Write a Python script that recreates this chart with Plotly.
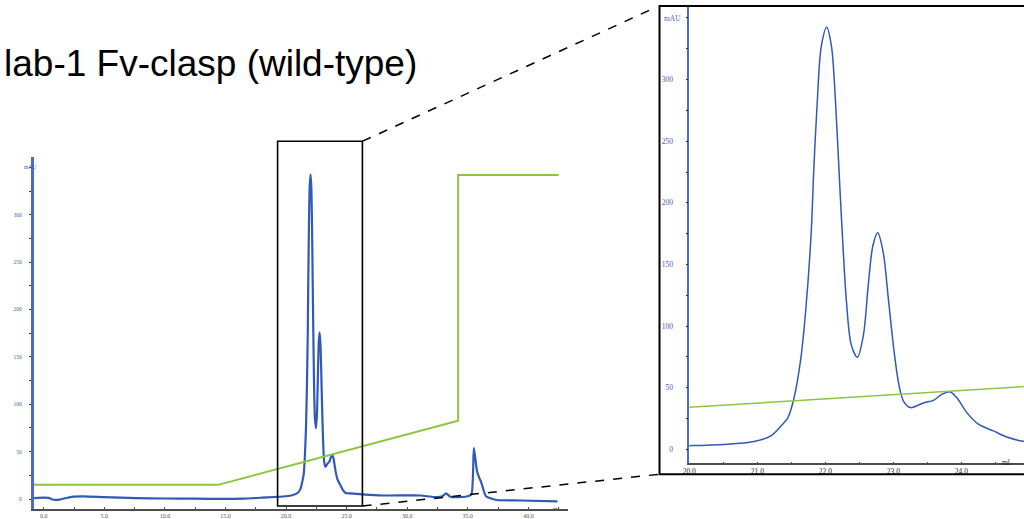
import plotly.graph_objects as go

# ---------------- data ----------------
# UV absorbance trace (mAU) versus elution volume (ml)
volume_ml = [-0.8, 0.0, 0.4, 0.8, 1.3, 2.3, 3.3, 5.0, 7.6, 10.0, 12.5, 15.0, 16.5, 18.0, 19.0,
             20.0, 20.5, 20.95, 21.2, 21.35, 21.45, 21.54, 21.64, 21.71, 21.79, 21.83, 21.88,
             21.94, 22.02, 22.09, 22.15, 22.20, 22.25, 22.31, 22.38, 22.47, 22.56, 22.63, 22.70,
             22.77, 22.85, 22.93, 23.01, 23.08, 23.15, 23.25, 23.45, 23.59, 23.71, 23.83, 23.93,
             24.08, 24.25, 24.47, 24.67, 24.91, 25.3, 26.3, 28.0, 31.1,
             32.2, 32.9, 33.2, 33.6, 34.9, 35.3, 35.5, 35.75, 35.9, 36.1, 36.5, 37.4, 39.3, 42.4]
uv_mau = [1.0, 1.5, 1.2, -0.7, -0.5, 2.4, 2.8, 2.0, 1.0, 0.6, 0.4, 0.2, 0.5, 1.5, 2.2,
          3.0, 4.0, 6.4, 11, 19.1, 25.8, 41.9, 74, 112, 174, 227, 281,
          327, 342.5, 327, 281, 227, 174, 120, 85, 74.7, 93, 133, 165.6,
          175.8, 160, 120, 79.6, 52.7, 39, 33.9, 37.9, 39.8, 44.6, 46.8, 42,
          29.8, 20.4, 15, 10, 6.5, 6, 5, 3.8, 3.8,
          2.2, 3, 6, 2.2, 2.7, 5, 54, 30, 24, 18, 3, -1, -1.5, -2.5]

# Conductivity / gradient trace (green)
cond_volume = [-0.8, 14.4, 34.2, 34.2, 42.5]
cond_value = [15, 15, 82.7, 342, 342]

# ticks
x_ticks_full = [0, 5, 10, 15, 20, 25, 30, 35, 40]
x_ticks_zoom = [20, 21, 22, 23, 24]
y_ticks = [0, 50, 100, 150, 200, 250, 300]

# ranges
full_x_range = [-0.82, 43.28]
full_y_range = [-10.5, 360.8]
zoom_x_range = [20.0, 24.92]
zoom_y_range = [-11.3, 358.9]
zoom_box_ml = [19.3, 26.3]

TITLE = "lab-1 Fv-clasp (wild-type)"

# ---------------- figure ----------------
W, H = 1024, 519


def px(x):
    return x / W


def py(y):
    return 1 - y / H


BLUE = "#3159b6"
GREEN = "#8cc63f"
AXBLUE = "#4a6cc8"
LABBLUE = "#4b5cb0"
SERIF = "Liberation Serif"

fig = go.Figure()

# full chromatogram (left)
fig.add_trace(go.Scatter(x=volume_ml, y=uv_mau, mode="lines",
                         line=dict(color=BLUE, width=2.2, shape="spline", smoothing=0.5),
                         xaxis="x", yaxis="y", showlegend=False, hoverinfo="skip"))
fig.add_trace(go.Scatter(x=cond_volume, y=cond_value, mode="lines",
                         line=dict(color=GREEN, width=2),
                         xaxis="x", yaxis="y", showlegend=False, hoverinfo="skip"))

# zoomed view (right)
fig.add_trace(go.Scatter(x=volume_ml, y=uv_mau, mode="lines",
                         line=dict(color=BLUE, width=1.5, shape="spline", smoothing=0.9),
                         xaxis="x2", yaxis="y2", showlegend=False, hoverinfo="skip"))
fig.add_trace(go.Scatter(x=cond_volume, y=cond_value, mode="lines",
                         line=dict(color=GREEN, width=1.5),
                         xaxis="x2", yaxis="y2", showlegend=False, hoverinfo="skip"))

common_x = dict(showgrid=False, zeroline=False, showline=True, linecolor="#4d4d4d",
                ticks="inside", tickcolor="#4d4d4d", tickmode="array")
common_y = dict(showgrid=False, zeroline=False, showline=True, ticks="outside",
                tickcolor="#333", tickmode="array", tickvals=y_ticks,
                ticktext=[str(v) for v in y_ticks])

fig.update_layout(
    width=W, height=H,
    margin=dict(l=0, r=0, t=0, b=0),
    paper_bgcolor="white", plot_bgcolor="white",
    xaxis=dict(common_x, domain=[px(27), px(565)], range=full_x_range, anchor="y",
               tickvals=x_ticks_full, ticktext=[f"{v:.1f}" for v in x_ticks_full],
               linewidth=1.5, ticklen=2,
               minor=dict(dtick=2.5, tick0=0, ticks="inside", ticklen=2, tickcolor="#4d4d4d"),
               tickfont=dict(family=SERIF, size=6, color="#555"), ticklabelstandoff=0),
    yaxis=dict(common_y, domain=[1 - 512 / H, 1 - 158 / H], range=full_y_range, anchor="x",
               linecolor=AXBLUE, linewidth=3, ticklen=2,
               minor=dict(dtick=25, tick0=0, ticks="outside", ticklen=2, tickcolor="#333"),
               tickfont=dict(family=SERIF, size=5.5, color=LABBLUE), ticklabelstandoff=6),
    xaxis2=dict(common_x, domain=[px(687), 1.0], range=zoom_x_range, anchor="y2",
                tickvals=x_ticks_zoom, ticktext=[f"{v:.1f}" for v in x_ticks_zoom],
                linewidth=1.5, ticklen=2,
                minor=dict(dtick=0.5, tick0=20, ticks="inside", ticklen=2, tickcolor="#4d4d4d"),
                tickfont=dict(family=SERIF, size=7.5, color="#222"), ticklabelstandoff=0),
    yaxis2=dict(common_y, domain=[1 - 466 / H, 1 - 7 / H], range=zoom_y_range, anchor="x2",
                linecolor=AXBLUE, linewidth=1.5, ticklen=2,
                minor=dict(dtick=25, tick0=0, ticks="outside", ticklen=2, tickcolor="#333"),
                tickfont=dict(family=SERIF, size=7.5, color=LABBLUE), ticklabelstandoff=11),
)

shapes = [
    # zoom box on the full chromatogram
    dict(type="rect", xref="x", yref="paper", x0=zoom_box_ml[0], x1=zoom_box_ml[1],
         y0=py(509), y1=py(142), line=dict(color="black", width=1.6)),
    # frame around the zoomed view
    dict(type="rect", xref="paper", yref="paper", x0=px(657), x1=px(1034),
         y0=py(477), y1=py(6), line=dict(color="black", width=2)),
    # connecting dashed lines
    dict(type="line", xref="paper", yref="paper", x0=px(358), y0=py(142), x1=px(652), y1=py(8),
         line=dict(color="black", width=1.5, dash="dash")),
    dict(type="line", xref="paper", yref="paper", x0=px(358), y0=py(509), x1=px(657), y1=py(477),
         line=dict(color="black", width=1.5, dash="dash")),
]
fig.update_layout(shapes=shapes)

annotations = [
    dict(text=TITLE, xref="paper", yref="paper", x=px(-5), y=py(64), xanchor="left",
         yanchor="middle", showarrow=False,
         font=dict(family="Liberation Sans", size=37, color="black")),
    dict(text="mAU", xref="paper", yref="paper", x=px(15), y=py(163), showarrow=False,
         font=dict(family=SERIF, size=5.5, color=LABBLUE)),
    dict(text="ml", xref="paper", yref="paper", x=px(553), y=py(517), showarrow=False,
         font=dict(family=SERIF, size=6, color="#555")),
    dict(text="mAU", xref="paper", yref="paper", x=px(670), y=py(12), showarrow=False,
         font=dict(family=SERIF, size=7.5, color=LABBLUE)),
    dict(text="ml", xref="paper", yref="paper", x=px(1012), y=py(472), showarrow=False,
         font=dict(family=SERIF, size=7.5, color="#222")),
]
fig.update_layout(annotations=annotations)

fig.write_html("out.html", config={"displayModeBar": False},
               post_script="document.body.style.margin='0';document.body.style.overflow='hidden';")
